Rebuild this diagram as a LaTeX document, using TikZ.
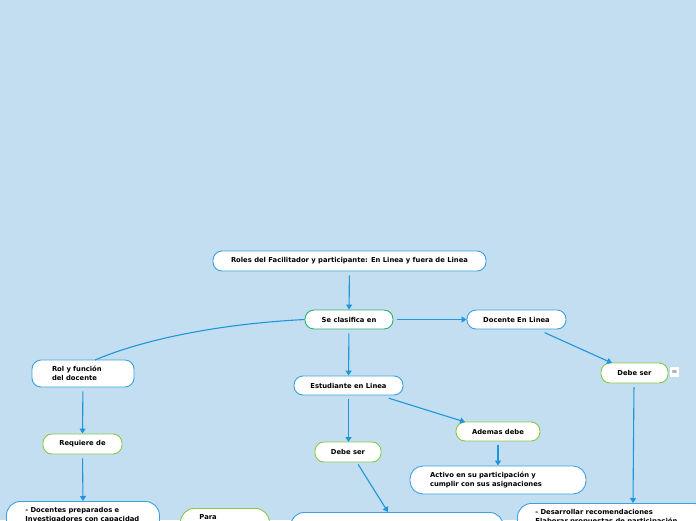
\documentclass[tikz,border=0pt]{standalone}
\usepackage{fontspec}
\setmainfont{DejaVu Sans}
\usetikzlibrary{arrows.meta}
\definecolor{bgblue}{RGB}{194,222,240}
\definecolor{lineblue}{RGB}{30,150,220}
\definecolor{bordblue}{RGB}{60,160,225}
\definecolor{bordteal}{RGB}{40,180,110}
\definecolor{bordgreen}{RGB}{140,200,70}
\tikzset{
  box/.style={draw=bordblue, fill=white, line width=0.9pt, rounded corners=9pt,
    font=\fontsize{6.8}{9}\selectfont\bfseries, inner sep=0pt},
  tealbox/.style={box, draw=bordteal},
  greenbox/.style={box, draw=bordgreen},
  conn/.style={draw=lineblue, line width=1.1pt, -{Triangle[length=5pt,width=6pt]}, shorten <=4pt},
  plain/.style={draw=lineblue, line width=1.1pt},
}
\begin{document}
\begin{tikzpicture}[x=1pt,y=-1pt]
\fill[bgblue] (0,0) rectangle (696,520);
\useasboundingbox (0,0) rectangle (696,520);
\clip (0,0) rectangle (696,520);

\node[box, minimum width=273, minimum height=20] (title) at (349.5,261) {Roles del Facilitador y participante: En Linea y fuera de Linea};
\node[tealbox, minimum width=88, minimum height=19] (clas) at (349,319.5) {Se clasifica en};
\node[box, minimum width=99, minimum height=19] (doc) at (516.5,319.5) {Docente En Linea};
\node[greenbox, minimum width=67, minimum height=20] (debe1) at (634.5,373) {Debe ser};
\node[draw=none, fill=white, minimum width=9, minimum height=10, inner sep=0pt, font=\fontsize{6}{6}\selectfont] (icon) at (674.5,372) {\(\equiv\)};
\node[box, minimum width=102, minimum height=27, inner xsep=20pt, text width=62, align=left] (rol) at (83,373.5) {Rol y función\\del docente};
\node[greenbox, minimum width=79, minimum height=20] (req) at (82.5,444) {Requiere de};
\node[box, anchor=north west, minimum width=153, inner xsep=19pt, text width=115, align=left, text depth=40pt, inner ysep=6pt, rounded corners=14pt] (docs) at (6,501) {- Docentes preparados e\\Investigadores con capacidad};
\node[greenbox, anchor=north west, minimum width=89, inner xsep=19pt, text width=51, align=left, text depth=40pt, inner ysep=6pt, rounded corners=14pt] (para) at (180,508) {Para};
\node[box, anchor=north west, minimum width=213, minimum height=60, rounded corners=14pt] (big) at (290,512) {};
\node[box, minimum width=109, minimum height=19] (est) at (348.5,385.5) {Estudiante en Linea};
\node[greenbox, minimum width=66, minimum height=20] (debe2) at (348,452) {Debe ser};
\node[greenbox, minimum width=84, minimum height=19] (adem) at (498,431.5) {Ademas debe};
\node[box, minimum width=176, minimum height=28, inner xsep=20pt, text width=136, align=left, rounded corners=13pt] (act) at (498,480) {Activo en su participación y\\cumplir con sus asignaciones};
\node[box, anchor=north west, minimum width=190, inner xsep=18pt, text width=154, align=left, text depth=40pt, inner ysep=6pt, rounded corners=14pt] (des) at (517,503) {- Desarrollar recomendaciones\\Elaborar propuestas de participación};

\draw[conn] (title) -- (clas);
\draw[conn] (clas) -- (doc);
\draw[plain] (clas.west) .. controls (200,325) and (130,345) .. (95,360);
\draw[conn] (clas) -- (est);
\draw[conn] (541,331) -- (612,363);
\draw[conn] (634,383) -- (633,503);
\draw[conn] (rol) -- (req);
\draw[conn] (req.south) -- (83,501);
\draw[conn] (348.5,395) -- (348.5,442);
\draw[conn] (385,397) -- (465,422);
\draw[conn] (adem) -- (act);
\draw[conn] (356,461) -- (388,512);
\end{tikzpicture}
\end{document}
